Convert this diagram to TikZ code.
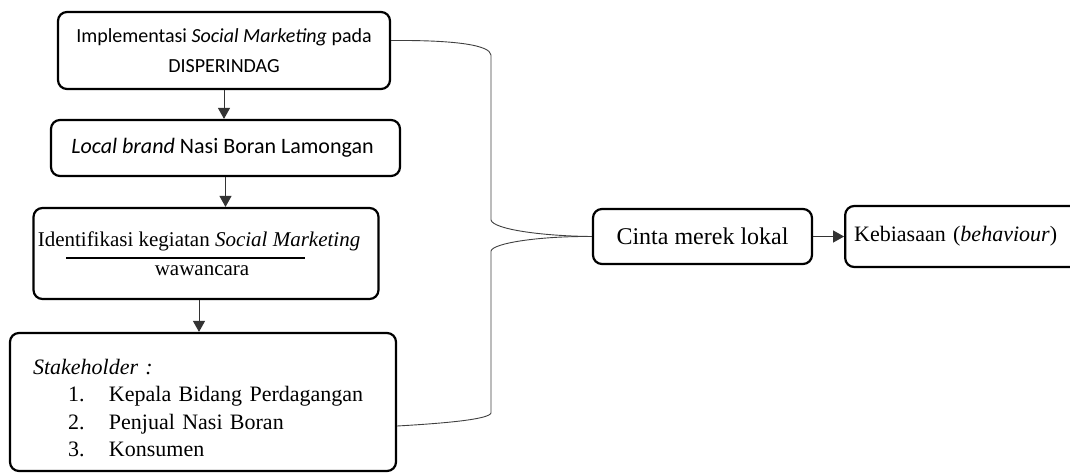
\documentclass[tikz,border=0pt]{standalone}
\usepackage{fontspec}
\setmainfont{Liberation Serif}
\newfontfamily\calibri{Carlito}
\usetikzlibrary{arrows.meta, positioning}

\begin{document}
\begin{tikzpicture}[
        x=1pt, y=-1pt,
        every node/.style={font=\fontsize{24}{29}\selectfont},
        box/.style={rectangle, draw, rounded corners=9pt, line width=2.2pt, align=center, inner sep=0pt},
        sansbox/.style={box, font=\calibri\fontsize{20}{30}\selectfont},
        arrow/.style={-{Triangle[length=11pt, width=12pt]}, line width=1pt, draw=black!80},
        link/.style={line width=0.9pt, draw=black!75}
    ]
        \useasboundingbox (0,0) rectangle (1070,472);
        % left column
        \node[sansbox, minimum width=332, minimum height=77] (impl) at (224,50.5) {Implementasi \textit{Social Marketing} pada\\ DISPERINDAG};
        \node[sansbox, minimum width=349, minimum height=56, font=\calibri\fontsize{22}{30}\selectfont] (brand) at (225.5,148)
            {\textit{Local brand} Nasi Boran Lamongan\hspace*{6pt}};
        \node[box, minimum width=345, minimum height=91, font=\fontsize{21}{29}\selectfont] (ident) at (206,253.5)
            {Identifikasi kegiatan \textit{Social Marketing}\hspace*{14pt}\\ wawancara\hspace*{8pt}};
        \node[box, minimum width=386, minimum height=138, text width=340, align=left,
              font=\fontsize{22}{27.5}\selectfont] (stake) at (203,402)
            {\rule{0pt}{27pt}\textit{Stakeholder :}\\
             \hspace*{35pt}\makebox[41pt][l]{1.}Kepala Bidang Perdagangan\\
             \hspace*{35pt}\makebox[41pt][l]{2.}Penjual Nasi Boran\\
             \hspace*{35pt}\makebox[41pt][l]{3.}Konsumen};
        % right side
        \node[box, minimum width=219, minimum height=55] (cinta) at (702.5,236.5) {Cinta merek lokal};
        \node[box, minimum width=240, minimum height=61, text width=222, align=left,
              font=\fontsize{22}{29}\selectfont, right=31pt of cinta] (habit)
            {Kebiasaan (\textit{behaviour})\vphantom{g}\\[-6pt]};
        % rule inside ident
        \draw[line width=2pt] (66,258) -- (305,258);
        \draw[arrow] (impl.south) -- (impl.south |- brand.north);
        \draw[arrow] (brand.south) -- (brand.south |- ident.north);
        \draw[arrow] ([xshift=-7pt]ident.south) -- ([xshift=-4pt]stake.north);
        \draw[arrow] (cinta) -- (habit);
        % bracket links
        \draw[link] ([yshift=10pt]impl.east) .. controls (455,40) and (490,45) .. (491,55)
            -- (491,220) .. controls (493,229) and (540,236) .. (cinta.west);
        \draw[link] (cinta.west) .. controls (540,236) and (493,243) .. (491,251)
            -- (491,413) .. controls (489,419) and (450,423) .. ([yshift=-24pt]stake.east);
    \end{tikzpicture}
\end{document}
